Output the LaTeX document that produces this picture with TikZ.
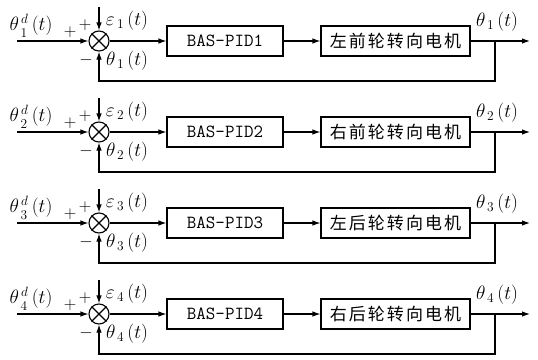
\documentclass[tikz,border=0pt]{standalone}
\usepackage{fontspec}
\newfontfamily\cjk[LetterSpace=12]{Noto Sans CJK SC}
\usetikzlibrary{arrows.meta,calc}
\newcommand{\lowsub}[1]{\raisebox{-2.5pt}{$\scriptstyle #1$}}
\begin{document}
\begin{tikzpicture}[x=1pt,y=-1pt,
  line width=1.1pt,
  every node/.style={font=\fontsize{17}{19}\selectfont},
  arr/.style={-{Latex[length=8pt,width=5.5pt]}},
  sumnode/.style={circle,draw,minimum size=20pt,inner sep=0pt},
  blk/.style={draw,minimum height=30pt,inner sep=0pt},
  lbl/.style={inner sep=0pt,scale=1.12},
  sgn/.style={inner sep=0pt,font=\fontsize{16}{18}\selectfont}]
\useasboundingbox (0,0) rectangle (538,359);
\foreach \i/\name in {1/左前,2/右前,3/左后,4/右后}{
  \pgfmathsetmacro{\Y}{41+91*(\i-1)}
  \node[sumnode] (s\i) at (99,\Y) {};
  \draw (s\i.north east) -- (s\i.south west) (s\i.north west) -- (s\i.south east);
  \coordinate (in\i) at (17,\Y);
  \coordinate (top\i) at (99,\Y-34);
  \node[blk,minimum width=116pt,font=\ttfamily\fontsize{18.5}{20}\selectfont] (pid\i) at (225,\Y) {BAS-PID\i};
  \node[blk,minimum width=149pt,font=\cjk\fontsize{17}{19}\selectfont] (m\i) at (395.5,\Y) {\name 轮转向电机};
  \coordinate (tap\i) at (495,\Y);
  \coordinate (out\i) at (530,\Y);
  \coordinate (fb\i) at (495,\Y+40);
  \draw[arr] (in\i) -- (s\i.west);
  \draw[arr] (top\i) -- (s\i.north);
  \draw[arr] (s\i.east) -- (pid\i.west);
  \draw[arr] (pid\i.east) -- (m\i.west);
  \draw[arr] (m\i.east) -- (out\i);
  \draw[arr] (tap\i) -- (fb\i) -| (s\i.south);
  \node[lbl] (ref\i) at (31,\Y-15) {$\theta^{\,d}_{\,\lowsub{\i}}\,(t)$};
  \node[sgn] (pa\i) at (70,\Y-9) {$+$};
  \node[sgn] (pb\i) at (85,\Y-16) {$+$};
  \node[lbl] (e\i) at (127,\Y-20) {$\varepsilon_{\,\i}\,(t)$};
  \node[sgn] (mn\i) at (86,\Y+19) {$-$};
  \node[lbl] (f\i) at (127,\Y+20) {$\theta_{\,\i}\,(t)$};
  \node[lbl] (o\i) at (497,\Y-19) {$\theta_{\,\i}\,(t)$};
}
\end{tikzpicture}
\end{document}
